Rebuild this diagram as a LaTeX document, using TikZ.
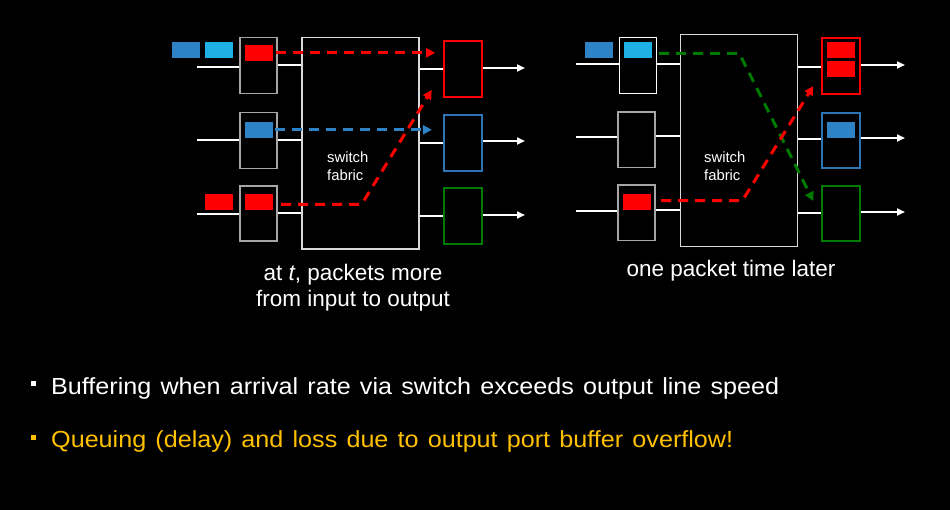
\documentclass[tikz,border=0pt]{standalone}
\usepackage{fontspec}
\setmainfont{Liberation Sans}
\usetikzlibrary{arrows.meta,calc}
\definecolor{pblue}{HTML}{2E83C6}
\definecolor{plblue}{HTML}{1FB1E6}
\definecolor{pred}{HTML}{FF0000}
\definecolor{pgreen}{HTML}{007A00}
\definecolor{obord}{HTML}{2E75B6}
\definecolor{ggray}{HTML}{A6A6A6}
\definecolor{fgray}{HTML}{D9D9D9}
\definecolor{qyellow}{HTML}{FFC000}
\begin{document}
\begin{tikzpicture}[x=1pt,y=-1pt,
 port/.style={draw=ggray,line width=1.5pt,minimum width=37pt,minimum height=56pt,inner sep=0pt},
 fabric/.style={draw=fgray,line width=1.5pt,inner sep=0pt},
 obox/.style={line width=2pt,minimum width=38pt,minimum height=56pt,inner sep=0pt},
 pkt/.style={minimum width=28pt,minimum height=16pt,inner sep=0pt},
 wline/.style={white,line width=2pt},
 warrow/.style={white,line width=2pt,-{Triangle[length=8pt,width=7pt]}},
 dsh/.style={line width=3pt,dash pattern=on 10pt off 7pt,-{Triangle[length=9pt,width=9pt]}},
 lbl/.style={text=white,inner sep=0pt},
]
\fill[black] (0,0) rectangle (950,510);
\useasboundingbox (0,0) rectangle (950,510);

% ---------------- left diagram ----------------
\node[pkt,fill=pblue] (lb1) at (186,49.7) {};
\node[pkt,fill=plblue] (llb1) at (219,49.7) {};
\node[port] (li1) at (258.5,65.3) {};
\node[port] (li2) at (258.5,140.3) {};
\node[port,minimum height=55pt] (li3) at (258.5,213.3) {};
\node[pkt,fill=pred] (lr1) at (259,52.8) {};
\node[pkt,fill=pblue] (lb2) at (259,129.8) {};
\node[pkt,fill=pred] (lr3) at (259,202) {};
\node[pkt,fill=pred] (lr3x) at (219,202) {};
\node[fabric,minimum width=117pt,minimum height=211.7pt] (lf) at (360.5,143.2) {};
\node[obox,draw=pred] (lo1) at (462.9,68.7) {};
\node[obox,draw=obord] (lo2) at (462.9,143) {};
\node[obox,draw=pgreen] (lo3) at (462.9,216.2) {};

\coordinate (la1) at (197,67.3);
\coordinate (la2) at (197,140.5);
\coordinate (la3) at (197,214.5);
\draw[wline] (la1) -- (la1 -| li1.west);
\draw[wline] (la2) -- (la2 -| li2.west);
\draw[wline] (la3) -- (la3 -| li3.west);
\draw[wline] (li1.east) -- (li1.east -| lf.west);
\draw[wline] (li2.east) -- (li2.east -| lf.west);
\draw[wline] (li3.east) -- (li3.east -| lf.west);
\draw[wline] (lo1.west -| lf.east) -- (lo1.west);
\draw[wline] (lo2.west -| lf.east) -- (lo2.west);
\draw[wline] (lo3.west -| lf.east) -- (lo3.west);
\coordinate (lz1) at (525,68);
\coordinate (lz2) at (525,141);
\coordinate (lz3) at (525,215);
\draw[warrow] (lo1.east |- lz1) -- (lz1);
\draw[warrow] (lo2.east |- lz2) -- (lz2);
\draw[warrow] (lo3.east |- lz3) -- (lz3);

\draw[dsh,pred,shorten <=3pt,shorten >=7.7pt] (lr1.east) -- (lr1.east -| lo1.west);
\draw[dsh,pblue,shorten <=2pt,shorten >=11pt] (lb2.east) -- (lb2.east -| lo2.west);
\coordinate (lk1) at (361.7,204.3);
\coordinate (le1) at (431.7,90);
\draw[dsh,pred,shorten <=8pt] (lr3.east |- lk1) -- (lk1) -- (le1);

\node[lbl,align=left,anchor=west,font=\fontsize{14.8}{18}\selectfont] (lt) at (327,166) {switch\\fabric};
\node[lbl,align=center,font=\fontsize{22.5}{26}\selectfont] (lcap) at (353,288) {at \textit{t}, packets more\\from input to output};

% ---------------- right diagram ----------------
\node[pkt,fill=pblue] (rb1) at (598.8,49.7) {};
\node[port,draw=white,minimum width=37.4pt] (ri1) at (638,65.3) {};
\node[pkt,fill=plblue] (rlb1) at (638,49.7) {};
\node[port,minimum height=55.3pt] (ri2) at (636.5,139.7) {};
\node[port,minimum height=55.3pt] (ri3) at (636.5,212.7) {};
\node[pkt,fill=pred] (rr3) at (637,202) {};
\node[fabric,minimum width=116.6pt,minimum height=212pt] (rf) at (739,140.3) {};
\node[obox,draw=pred,minimum height=55.7pt] (ro1) at (841.3,66.2) {};
\node[obox,draw=obord,minimum height=55.7pt] (ro2) at (841.3,140.5) {};
\node[obox,draw=pgreen,minimum height=55.3pt] (ro3) at (841.3,213.3) {};
\node[pkt,fill=pred] (ror1) at (841,49.7) {};
\node[pkt,fill=pred] (ror2) at (841,68.8) {};
\node[pkt,fill=pblue] (rob2) at (841,129.8) {};

\coordinate (ra1) at (575.7,64.3);
\coordinate (ra2) at (575.7,137.3);
\coordinate (ra3) at (575.7,211.3);
\draw[wline] (ra1) -- (ra1 -| ri1.west);
\draw[wline] (ra2) -- (ra2 -| ri2.west);
\draw[wline] (ra3) -- (ra3 -| ri3.west);
\coordinate (rp1) at (657,63.7);
\coordinate (rp2) at (656,136.3);
\coordinate (rp3) at (656,210.3);
\draw[wline] (rp1 -| ri1.east) -- (rp1 -| rf.west);
\draw[wline] (rp2 -| ri2.east) -- (rp2 -| rf.west);
\draw[wline] (rp3 -| ri3.east) -- (rp3 -| rf.west);
\coordinate (rq1) at (800,66.7);
\coordinate (rq2) at (800,139);
\coordinate (rq3) at (800,213.3);
\draw[wline] (rq1 -| rf.east) -- (rq1 -| ro1.west);
\draw[wline] (rq2 -| rf.east) -- (rq2 -| ro2.west);
\draw[wline] (rq3 -| rf.east) -- (rq3 -| ro3.west);
\coordinate (rz1) at (905,65);
\coordinate (rz2) at (905,138);
\coordinate (rz3) at (905,212);
\draw[warrow] (ro1.east |- rz1) -- (rz1);
\draw[warrow] (ro2.east |- rz2) -- (rz2);
\draw[warrow] (ro3.east |- rz3) -- (rz3);

\coordinate (rk1) at (739.3,53.3);
\coordinate (re1) at (813.3,201);
\draw[dsh,pgreen,shorten <=7pt] (rlb1.east |- rk1) -- (rk1) -- (re1);
\coordinate (rk2) at (742.3,200.7);
\coordinate (re2) at (813.3,86);
\draw[dsh,pred,shorten <=10pt] (rr3.east |- rk2) -- (rk2) -- (re2);

\node[lbl,align=left,anchor=west,font=\fontsize{14.8}{18}\selectfont] (rt) at (704,166) {switch\\fabric};
\node[lbl,font=\fontsize{22.5}{24.5}\selectfont] (rcap) at (731,271) {one packet time later};

% ---------------- bullets ----------------
\node[fill=white,minimum size=5.3pt,inner sep=0pt] (s1) at (33.5,383.5) {};
\node[fill=qyellow,minimum size=5.3pt,inner sep=0pt] (s2) at (33.5,437.5) {};
\node[lbl,anchor=base west] (b1) at (51,394) {\resizebox{728pt}{\height}{\fontsize{23.3}{28}\selectfont\spaceskip=8.5pt Buffering when arrival rate via switch exceeds output line speed}};
\node[lbl,text=qyellow,anchor=base west] (b2) at (51,447.5) {\resizebox{682pt}{\height}{\fontsize{23.3}{28}\selectfont\spaceskip=8.5pt Queuing (delay) and loss due to output port buffer overflow!}};
\end{tikzpicture}
\end{document}
